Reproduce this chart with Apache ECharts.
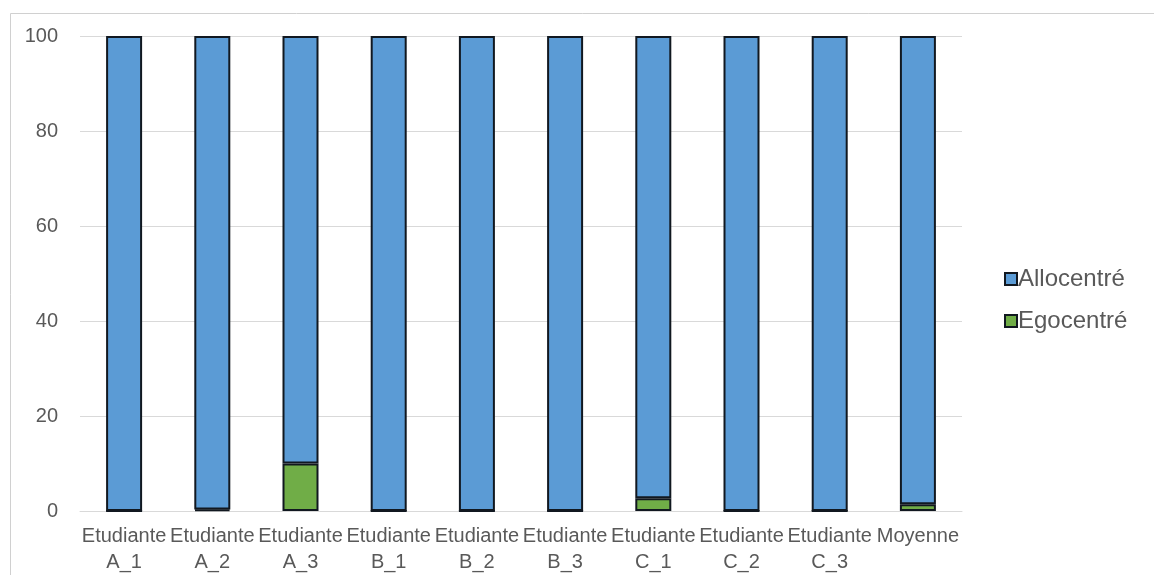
<!DOCTYPE html>
<html>
<head>
<meta charset="utf-8">
<script src="https://cdn.jsdelivr.net/npm/echarts@6/dist/echarts.min.js"></script>
<style>
html,body{margin:0;padding:0;background:#fff;}
#chart{width:1154px;height:575px;}
</style>
</head>
<body>
<div id="chart"></div>
<script>
const categories = ["Etudiante\nA_1","Etudiante\nA_2","Etudiante\nA_3","Etudiante\nB_1","Etudiante\nB_2","Etudiante\nB_3","Etudiante\nC_1","Etudiante\nC_2","Etudiante\nC_3","Moyenne"];
const egocentre = [0, 0.3, 10, 0, 0, 0, 2.7, 0, 0, 1.4];
const allocentre = [100, 99.7, 90, 100, 100, 100, 97.3, 100, 100, 98.6];
const yTicks = [0, 20, 40, 60, 80, 100];

const chart = echarts.init(document.getElementById('chart'), null, {renderer:'canvas'});
const txt = '#595959';
const font = 'Liberation Sans, Arial, sans-serif';
chart.setOption({
  animation:false,
  backgroundColor:'#fff',
  graphic:[{type:'rect',left:8,top:11,shape:{width:1160,height:580},style:{fill:'none',stroke:'#d0d0d0',lineWidth:1},silent:true}],
  grid:{left:80,right:192,top:36,bottom:63},
  legend:{
    orient:'vertical',left:999,top:262,itemWidth:12,itemHeight:12,itemGap:18,
    icon:'rect',
    textStyle:{fontSize:24,color:txt,fontFamily:font,padding:[0,0,0,-4]},
    data:['Allocentré','Egocentré']
  },
  xAxis:{
    type:'category',data:categories,
    axisLine:{lineStyle:{color:'#d9d9d9',width:1}},
    axisTick:{show:false},
    axisLabel:{fontSize:20,color:txt,fontFamily:font,lineHeight:26,margin:12,interval:0}
  },
  yAxis:{
    type:'value',min:yTicks[0],max:yTicks[yTicks.length-1],interval:20,
    axisLine:{show:false},axisTick:{show:false},
    splitLine:{lineStyle:{color:'#d9d9d9',width:1}},
    axisLabel:{fontSize:20,color:txt,fontFamily:font,margin:22}
  },
  series:[
    {name:'Egocentré',type:'bar',stack:'s',data:egocentre,barWidth:36,
     itemStyle:{color:'#70ad47',borderColor:'#111820',borderWidth:2}},
    {name:'Allocentré',type:'bar',stack:'s',data:allocentre,barWidth:36,
     itemStyle:{color:'#5b9bd5',borderColor:'#111820',borderWidth:2}}
  ]
});
</script>
</body>
</html>
